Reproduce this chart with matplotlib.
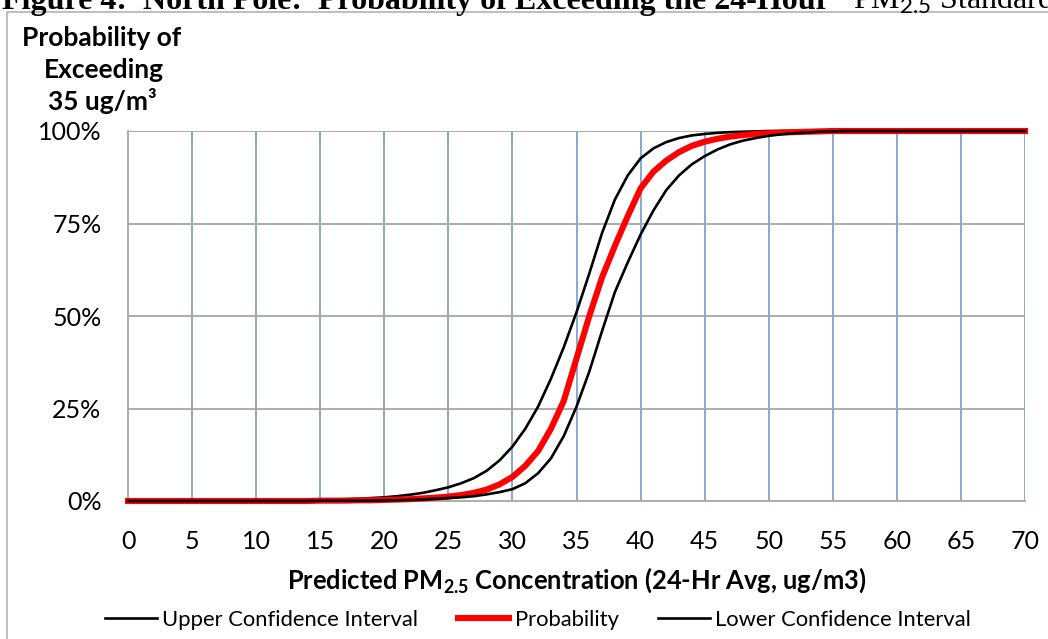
import matplotlib
matplotlib.use("Agg")
import matplotlib.pyplot as plt
from matplotlib.lines import Line2D
from matplotlib.patches import Rectangle

# ---------------- data ----------------
concentration = list(range(0, 71))

upper_ci = [0, 0, 0, 0, 0, 0, 0, 0, 0, 0,
            0.1, 0.1, 0.1, 0.2, 0.2, 0.3, 0.4, 0.5, 0.6, 0.8,
            1.0, 1.3, 1.7, 2.2, 2.9, 3.7, 4.8, 6.2, 8.2, 11.0,
            14.7, 19.5, 25.5, 33.0, 41.5, 51.0, 61.5, 72.5, 81.5, 88.0,
            92.6, 95.3, 97.0, 98.1, 98.8, 99.2, 99.5, 99.7, 99.8, 99.9,
            100, 100, 100, 100, 100, 100, 100, 100, 100, 100,
            100, 100, 100, 100, 100, 100, 100, 100, 100, 100, 100]

probability = [0, 0, 0, 0, 0, 0, 0, 0, 0, 0,
               0, 0, 0, 0, 0, 0.1, 0.1, 0.1, 0.2, 0.2,
               0.3, 0.4, 0.5, 0.7, 0.9, 1.2, 1.6, 2.2, 3.1, 4.5,
               6.5, 9.5, 13.5, 19.5, 27.0, 38.5, 50.0, 60.5, 69.0, 77.0,
               84.5, 89.0, 92.0, 94.3, 96.0, 97.1, 97.9, 98.5, 98.9, 99.2,
               99.4, 99.6, 99.7, 99.8, 99.9, 100, 100, 100, 100, 100,
               100, 100, 100, 100, 100, 100, 100, 100, 100, 100, 100]

lower_ci = [0, 0, 0, 0, 0, 0, 0, 0, 0, 0,
            0, 0, 0, 0, 0, 0.1, 0.1, 0.1, 0.1, 0.1,
            0.2, 0.2, 0.3, 0.4, 0.6, 0.8, 1.0, 1.3, 1.8, 2.4,
            3.2, 4.8, 7.5, 11.5, 17.5, 25.5, 35.0, 46.0, 56.5, 64.5,
            72.0, 78.5, 84.0, 88.0, 91.0, 93.2, 95.0, 96.4, 97.4, 98.1,
            98.7, 99.1, 99.4, 99.6, 99.8, 99.9, 100, 100, 100, 100,
            100, 100, 100, 100, 100, 100, 100, 100, 100, 100, 100]

x_ticks = list(range(0, 71, 5))
y_ticks = [0, 25, 50, 75, 100]
y_tick_labels = ["0%", "25%", "50%", "75%", "100%"]
series_names = ["Upper Confidence Interval", "Probability", "Lower Confidence Interval"]

# ---------------- figure ----------------
W, H = 1048, 639
plt.rcParams['font.family'] = ['Lato', 'DejaVu Sans']
plt.rcParams['mathtext.fontset'] = 'custom'
plt.rcParams['mathtext.rm'] = 'Lato'
plt.rcParams['mathtext.bf'] = 'Lato:bold'

fig = plt.figure(figsize=(W / 100, H / 100), dpi=100)

def fx(px):
    return px / W

def fy(py):
    return 1 - py / H

# outer frame
fig.patches.append(Rectangle((fx(7), fy(H + 5)), fx(W + 20) - fx(7), fy(12) - fy(H + 5),
                             transform=fig.transFigure, fill=False,
                             edgecolor='#b3b3b3', linewidth=1.2))

# title at top (partly cut by the image edge, as in the reference)
fig.text(fx(2), fy(9), "Figure 4:  North Pole:  Probability of Exceeding the 24-Hour",
         family=['Liberation Serif'], fontweight='bold', fontsize=23,
         ha='left', va='baseline', color='black')
fig.text(fx(853), fy(9), "PM$_{2.5}$ Standard",
         family=['Liberation Serif'], fontsize=23,
         ha='left', va='baseline', color='black')

left, right, top, bottom = 128, 1025, 131, 501
ax = fig.add_axes([fx(left), fy(bottom), fx(right) - fx(left), fy(top) - fy(bottom)])

ax.set_xlim(0, 70)
ax.set_ylim(0, 100)

# grid lines
for xv in x_ticks[1:]:
    ax.axvline(xv, color='#7fa3d3', linewidth=1.3, zorder=1)
for yv in y_ticks[1:]:
    ax.axhline(yv, color='#a6a6a6', linewidth=1.3, zorder=1)

for s in ['top', 'right']:
    ax.spines[s].set_visible(False)
for s in ['left', 'bottom']:
    ax.spines[s].set_color('#a6a6a6')
    ax.spines[s].set_linewidth(1.3)

ax.plot(concentration, upper_ci, color='black', linewidth=1.9, zorder=3, clip_on=False)
ax.plot(concentration, probability, color='#ff0000', linewidth=4.4, zorder=4, clip_on=False)
ax.plot(concentration, lower_ci, color='black', linewidth=1.9, zorder=5, clip_on=False)

ax.set_xticks(x_ticks)
ax.set_xticklabels([str(v) for v in x_ticks])
ax.set_yticks(y_ticks)
ax.set_yticklabels(y_tick_labels)
ax.tick_params(axis='both', length=0, labelsize=18, colors='black')
ax.tick_params(axis='x', pad=21)
ax.tick_params(axis='y', pad=19)

# y axis title (three lines)
fig.text(fx(102), fy(38), "Probability of", fontweight='bold', fontsize=19, ha='center', va='center')
fig.text(fx(104), fy(70), "Exceeding", fontweight='bold', fontsize=19, ha='center', va='center')
fig.text(fx(102), fy(101), "35 ug/m\u00b3", fontweight='bold', fontsize=19, ha='center', va='center')

# x axis title
fig.text(fx(576.5), fy(580), r"Predicted PM$_{\mathbf{2.5}}$ Concentration (24-Hr Avg, ug/m3)",
         fontweight='bold', fontsize=18.4, ha='center', va='center')

handles = [Line2D([], [], color='black', linewidth=1.9),
           Line2D([], [], color='#ff0000', linewidth=4.4),
           Line2D([], [], color='black', linewidth=1.9)]
fig.legend(handles, series_names, loc='center', bbox_to_anchor=(fx(538), fy(620)),
           ncol=3, frameon=False, fontsize=15.8, handlelength=2.35, handletextpad=0.25,
           columnspacing=1.8, borderpad=0, borderaxespad=0)

fig.savefig("out.png", dpi=100)
